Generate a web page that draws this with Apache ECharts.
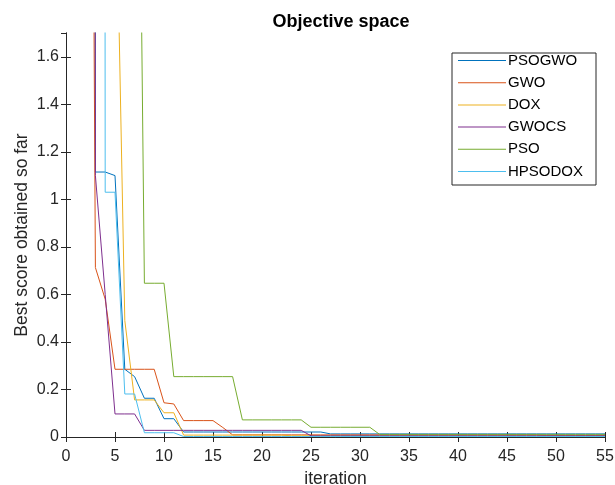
<!DOCTYPE html>
<html><head><meta charset="utf-8">
<script src="https://cdn.jsdelivr.net/npm/echarts@6/dist/echarts.min.js"></script>
<style>html,body{margin:0;padding:0;background:#fff}#c{width:615px;height:485px}</style>
</head><body><div id="c"></div>
<script>
const iterations = Array.from({length:55},(_, i)=>i+1);
const seriesNames = ['PSOGWO','GWO','DOX','GWOCS','PSO','HPSODOX'];
function fill(head, tailSpec){ // explicit read values; tailSpec = [[fromIter, value], ...]
  const out = head.slice();
  for (let it = head.length+1; it <= 55; it++){
    let v = null;
    for (const [f, val] of tailSpec) if (it >= f) v = val;
    out.push(v);
  }
  return out;
}
const PSOGWO = fill([80,50,1.115,1.115,1.10,0.285,0.254,0.163,0.163,0.077,0.077],
  [[12,0.021],[27,0.013]]);
const GWO = fill([60,8,0.713,0.58,0.285,0.285,0.285,0.285,0.285,0.144,0.139,0.069,0.069,0.069,0.069,0.04],
  [[17,0.009],[49,0.006]]);
const DOX = fill([10,6,4,3.2,2.6,0.49,0.156,0.156,0.156,0.102,0.102],
  [[12,0.008],[23,0.005]]);
const GWOCS = fill([70,40,1.1,0.6,0.097,0.097,0.097],
  [[8,0.028],[25,0.005]]);
const PSO = fill([20,15,12,10,8,6,4.5,0.647,0.647,0.647],
  [[11,0.254],[18,0.072],[25,0.041],[32,0.011]]);
const HPSODOX = fill([100,80,60,1.03,1.03,0.181,0.181],
  [[8,0.018],[12,0.002]]);
const seriesData = [PSOGWO,GWO,DOX,GWOCS,PSO,HPSODOX];
const colors = ['#0072BD','#D95319','#EDB120','#7E2F8E','#77AC30','#4DBEEE'];
const xTicks = {min:0,max:55,interval:5};
const yTicks = {min:0,max:1.7,interval:0.2};

const font = 'Liberation Sans, Arial, sans-serif';
const axisCol = '#262626';
const chart = echarts.init(document.getElementById('c'));
const lineStyleAx = {lineStyle:{color:axisCol,width:1}};
const legendLine = 'path://M0,0 L0.01,0 L0.01,0.01 Z M0,5.5 L48,5.5 L48,6.5 L0,6.5 Z M47.99,12 L48,12 L48,11.99 Z';
chart.setOption({
  animation:false,
  color:colors,
  title:{text:'Objective space',left:336,top:8,textAlign:'center',
    textStyle:{fontFamily:font,fontSize:18,fontWeight:'bold',color:'#000'}},
  legend:{orient:'vertical',left:452,top:53,data:seriesNames,icon:legendLine,
    itemWidth:48,itemHeight:12,itemGap:7.2,
    borderColor:'#262626',borderWidth:1,padding:[0,13,6,6],
    backgroundColor:'#fff',
    textStyle:{fontFamily:font,fontSize:15,color:'#000',lineHeight:12,padding:[0,0,0,-3]}},
  grid:{left:66,right:10,top:33,bottom:48,containLabel:false,outerBoundsMode:'none'},
  xAxis:[{type:'value',min:xTicks.min,max:xTicks.max,interval:xTicks.interval,
    name:'iteration',nameLocation:'middle',nameGap:31,
    nameTextStyle:{fontFamily:font,fontSize:17.5,color:'#262626'},
    axisLine:lineStyleAx,axisTick:{inside:true,length:5,lineStyle:{color:axisCol}},
    axisLabel:{fontFamily:font,fontSize:16,color:'#262626',margin:12},
    splitLine:{show:false}},
   {type:'value',position:'top',min:xTicks.min,max:xTicks.max,interval:xTicks.interval,
    axisLine:lineStyleAx,axisTick:{inside:true,length:5,lineStyle:{color:axisCol}},
    axisLabel:{show:false},splitLine:{show:false}}],
  yAxis:[{type:'value',min:yTicks.min,max:yTicks.max,interval:yTicks.interval,
    name:'Best score obtained so far',nameLocation:'middle',nameGap:35,nameMoveOverlap:false,
    nameTextStyle:{fontFamily:font,fontSize:17.5,color:'#262626'},
    axisLine:{show:true,lineStyle:{color:axisCol,width:1}},
    axisTick:{show:true,inside:true,length:5,lineStyle:{color:axisCol}},
    axisLabel:{fontFamily:font,fontSize:16,color:'#262626',margin:7,showMaxLabel:false},
    splitLine:{show:false}},
   {type:'value',position:'right',min:yTicks.min,max:yTicks.max,interval:yTicks.interval,
    axisLine:{show:true,lineStyle:{color:axisCol,width:1}},
    axisTick:{show:true,inside:true,length:5,lineStyle:{color:axisCol}},
    axisLabel:{show:false},splitLine:{show:false}}],
  series:seriesNames.map((n,i)=>({
    name:n,type:'line',xAxisIndex:0,yAxisIndex:0,
    data:iterations.map((it,k)=>[it,seriesData[i][k]]),
    symbol:'none',showSymbol:false,clip:true,
    lineStyle:{width:1,color:colors[i]},itemStyle:{color:colors[i]}
  }))
});
</script></body></html>
